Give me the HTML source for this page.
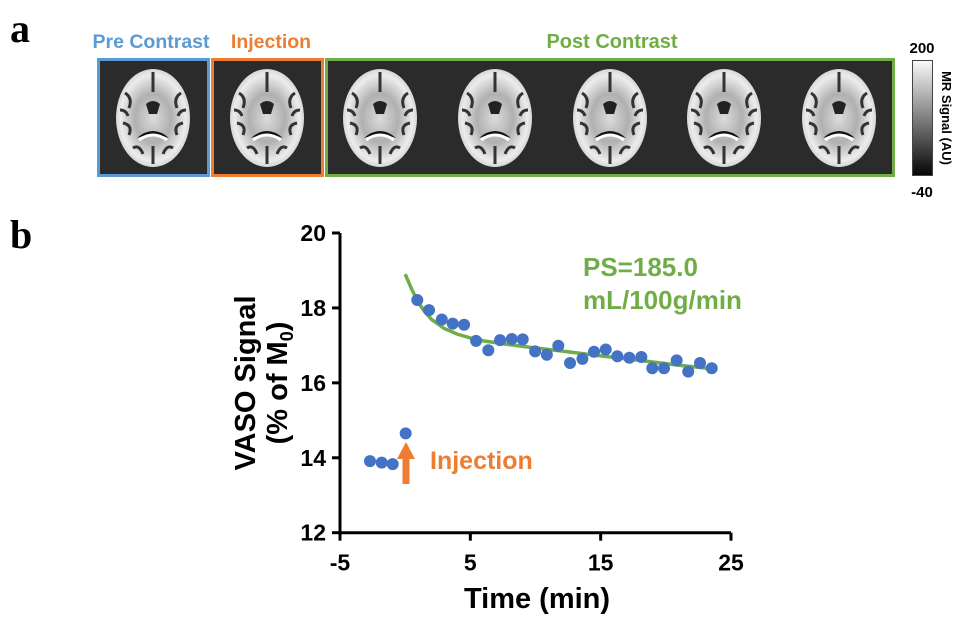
<!DOCTYPE html>
<html><head><meta charset="utf-8"><style>
body{margin:0;background:#fff;width:972px;height:625px;overflow:hidden;font-family:"Liberation Sans",Arial,sans-serif}
svg{display:block}
</style></head><body>
<svg width="972" height="625" viewBox="0 0 972 625">
<defs>
<radialGradient id="brainG" cx="50%" cy="50%" r="55%">
<stop offset="0" stop-color="#dcdcdc"/><stop offset="0.45" stop-color="#b0b0b0"/><stop offset="0.8" stop-color="#ececec"/><stop offset="1" stop-color="#c4c4c4"/>
</radialGradient>
<linearGradient id="cbar" x1="0" y1="0" x2="0" y2="1"><stop offset="0" stop-color="#fafafa"/><stop offset="1" stop-color="#050505"/></linearGradient>
<g id="brain">
<ellipse cx="0" cy="0" rx="37" ry="49" fill="url(#brainG)"/>
<path d="M-28,-25 q8,5 4,15 M28,-25 q-8,5 -4,15 M-30,5 q10,2 6,12 M30,5 q-10,2 -6,12 M-20,30 q6,-4 10,6 M20,30 q-6,-4 -10,6 M0,-46 v20 M0,28 v18 M-33,-8 q6,0 8,6 M33,-8 q-6,0 -8,6" stroke="#333" stroke-width="3" fill="none"/>
<path d="M-7,-14 q7,-6 14,0 l-3,10 h-8z" fill="#222"/>
<path d="M-16,20 q16,-14 32,0 q-16,-6 -32,0z" fill="#111"/>
<path d="M-14,22 q14,-10 28,0" stroke="#fff" stroke-width="3" fill="none"/>
</g>
</defs>

<text x="10" y="42" font-family="Liberation Serif,serif" font-weight="bold" font-size="40">a</text>
<text x="10" y="248" font-family="Liberation Serif,serif" font-weight="bold" font-size="40">b</text>

<text x="151" y="48" text-anchor="middle" font-size="19.5" font-weight="bold" fill="#5B9BD5">Pre Contrast</text>
<text x="271" y="48" text-anchor="middle" font-size="19.5" font-weight="bold" fill="#ED7D31">Injection</text>
<text x="612" y="48" text-anchor="middle" font-size="20" font-weight="bold" fill="#70AD47">Post Contrast</text>

<g>
<rect x="98.5" y="59.5" width="110" height="116" fill="#2b2b2b" stroke="#5B9BD5" stroke-width="3"/>
<use href="#brain" x="153" y="118"/>
</g>
<g>
<rect x="212.5" y="59.5" width="110" height="116" fill="#2b2b2b" stroke="#ED7D31" stroke-width="3"/>
<use href="#brain" x="267" y="118"/>
</g>
<g>
<rect x="326.5" y="59.5" width="567" height="116" fill="#2b2b2b" stroke="#70AD47" stroke-width="3"/>
<use href="#brain" x="380" y="118"/><use href="#brain" x="495" y="118"/><use href="#brain" x="610" y="118"/><use href="#brain" x="724" y="118"/><use href="#brain" x="839" y="118"/>
</g>

<g>
<rect x="912.5" y="60.5" width="20" height="115" fill="url(#cbar)" stroke="#444" stroke-width="1"/>
<text x="922" y="53" text-anchor="middle" font-size="15" font-weight="bold">200</text>
<text x="922" y="197" text-anchor="middle" font-size="15" font-weight="bold">-40</text>
<text transform="translate(942,118) rotate(90)" text-anchor="middle" font-size="13" font-weight="bold">MR Signal (AU)</text>
</g>

<g id="chart"></g>
</svg>
<script>
const xTicks=[-5,5,15,25];
const yTicks=[12,14,16,18,20];
const times=[-2.7,-1.8,-0.96,0.04,0.93,1.83,2.81,3.65,4.52,5.44,6.38,7.28,8.18,9.02,9.97,10.87,11.75,12.65,13.6,14.49,15.39,16.28,17.2,18.12,18.96,19.86,20.83,21.72,22.62,23.52];
const signal=[13.91,13.87,13.83,14.65,18.21,17.94,17.69,17.58,17.55,17.12,16.87,17.14,17.17,17.16,16.84,16.75,16.99,16.53,16.64,16.83,16.89,16.71,16.67,16.69,16.39,16.39,16.6,16.3,16.53,16.39];
const fitTimes=[0,0.5,1,1.5,2,3,4,5,6,8,10,12,15,18,21,23.5];
const fitValues=[18.9,18.5,18.15,17.9,17.7,17.45,17.3,17.2,17.12,17.02,16.93,16.85,16.72,16.6,16.47,16.38];
const X0=340,X1=731,Y0=532.7,Y1=233;
const sx=v=>X0+(v+5)/30*(X1-X0);
const sy=v=>Y0-(v-12)/8*(Y0-Y1);
const NS='http://www.w3.org/2000/svg';
const g=document.getElementById('chart');
function mk(t,a,parent){const e=document.createElementNS(NS,t);for(const k in a)e.setAttribute(k,a[k]);(parent||g).appendChild(e);return e;}
let e;
e=mk('line',{x1:X0,y1:Y1,x2:X0,y2:Y0+1.5,stroke:'#000','stroke-width':3});


e=mk('line',{x1:X0-1.5,y1:Y0,x2:X1,y2:Y0,stroke:'#000','stroke-width':3});


yTicks.forEach(v=>{
 mk('line',{x1:X0-8,y1:sy(v),x2:X0,y2:sy(v),stroke:'#000','stroke-width':3});
 e=mk('text',{x:X0-14,y:sy(v)+8,'text-anchor':'end','font-size':23,'font-weight':'bold'});e.textContent=v;
 
 
});
xTicks.forEach(v=>{
 mk('line',{x1:sx(v),y1:Y0,x2:sx(v),y2:Y0+8,stroke:'#000','stroke-width':3});
 e=mk('text',{x:sx(v),y:Y0+38,'text-anchor':'middle','font-size':23,'font-weight':'bold'});e.textContent=v;
 
 
});
e=mk('text',{x:537,y:608,'text-anchor':'middle','font-size':29,'font-weight':'bold'});e.textContent='Time (min)';


e=mk('text',{transform:'translate(255,383) rotate(-90)','text-anchor':'middle','font-size':29,'font-weight':'bold'});e.textContent='VASO Signal';


e=mk('text',{transform:'translate(287,383) rotate(-90)','text-anchor':'middle','font-size':29,'font-weight':'bold'});
e.innerHTML='(% of M<tspan font-size="18" dy="6">0</tspan><tspan dy="-6">)</tspan>';


e=mk('path',{d:fitTimes.map((t,i)=>(i?'L':'M')+sx(t)+','+sy(fitValues[i])).join(''),fill:'none',stroke:'#70AD47','stroke-width':3.5});


times.forEach((t,i)=>{
 e=mk('circle',{cx:sx(t),cy:sy(signal[i]),r:6,fill:'#4472C4'});
 
 
});
e=mk('path',{d:'M402.5,484 V459 H397 L406,442 L415,459 H409.5 V484 Z',fill:'#ED7D31'});


e=mk('text',{x:430,y:469,'font-size':25,'font-weight':'bold',fill:'#ED7D31'});e.textContent='Injection';


e=mk('text',{x:583,y:276,'font-size':26,'font-weight':'bold',fill:'#70AD47'});e.textContent='PS=185.0';


e=mk('text',{x:583,y:309,'font-size':26,'font-weight':'bold',fill:'#70AD47'});e.textContent='mL/100g/min';


</script>
</body></html>
